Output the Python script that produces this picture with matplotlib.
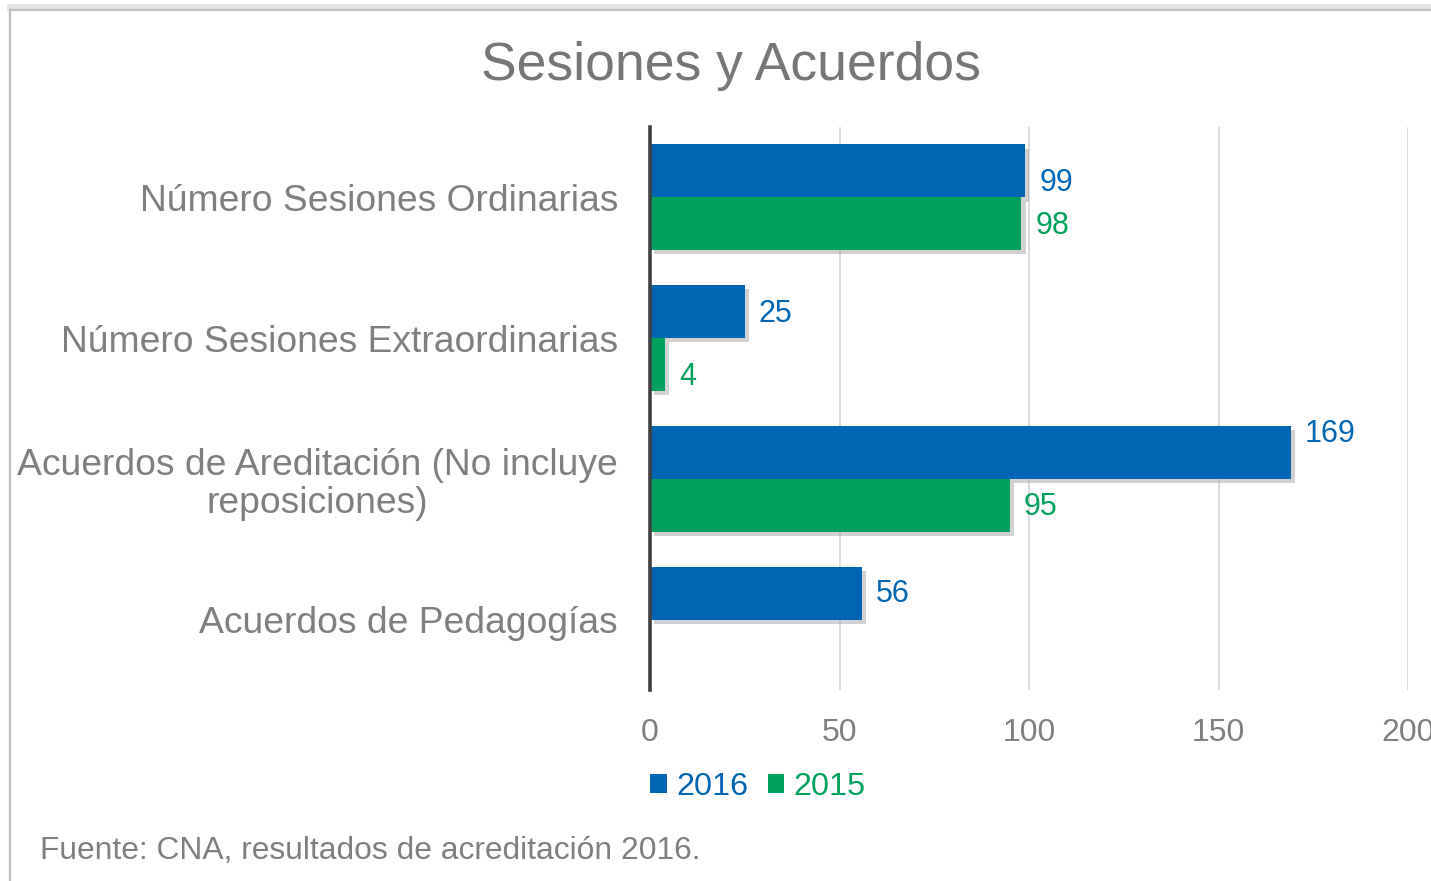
import matplotlib
matplotlib.use("Agg")
import matplotlib.pyplot as plt
import matplotlib.patheffects as pe
from matplotlib.lines import Line2D
import numpy as np

plt.rcParams['font.family'] = ['Liberation Sans', 'DejaVu Sans']

categories = ["Número Sesiones Ordinarias",
              "Número Sesiones Extraordinarias",
              "Acuerdos de Areditación (No incluye\nreposiciones)",
              "Acuerdos de Pedagogías"]
values_2016 = [99, 25, 169, 56]
values_2015 = [98, 4, 95, None]
series_names = ["2016", "2015"]
xticks = [0, 50, 100, 150, 200]
title = "Sesiones y Acuerdos"
source = "Fuente: CNA, resultados de acreditación 2016."

# style
C_BLUE = "#0066B3"
C_GREEN = "#00A15C"
C_GRAY = "#7F7F7F"
W, H = 1431, 881
fig = plt.figure(figsize=(W / 100, H / 100), dpi=100)
ax = fig.add_axes([650 / W, 1 - 690 / H, (1408 - 650) / W, (690 - 127) / H])

n = len(categories)
y = np.arange(n)
bh = 0.376
shadow = [pe.SimplePatchShadow(offset=(3, -3), shadow_rgbFace="#909090", alpha=0.4), pe.Normal()]

b16 = ax.barh(y - bh / 2, values_2016, height=bh, color=C_BLUE, label=series_names[0], zorder=3)
v15 = [v if v is not None else 0 for v in values_2015]
b15 = ax.barh(y + bh / 2, v15, height=bh, color=C_GREEN, label=series_names[1], zorder=3)
for i, r in enumerate(b15):
    if values_2015[i] is None:
        r.set_visible(False)
for r in list(b16) + list(b15):
    r.set_path_effects(shadow)

# label vertical offsets (pixels) to mimic reference placement
off16 = [-12, -2, 18, -1]
off15 = [-2, -12, -2, 0]
for i, v in enumerate(values_2016):
    ax.annotate(str(v), (v, y[i] - bh / 2), xytext=(14, off16[i]), textcoords="offset pixels",
                ha="left", va="center", color=C_BLUE, fontsize=22)
for i, v in enumerate(values_2015):
    if v is None:
        continue
    ax.annotate(str(v), (v, y[i] + bh / 2), xytext=(14, off15[i]), textcoords="offset pixels",
                ha="left", va="center", color=C_GREEN, fontsize=22)

ax.set_xlim(0, 200)
ax.set_ylim(n - 0.5, -0.5)
ax.set_xticks(xticks)
ax.set_xticklabels([str(t) for t in xticks])
ax.set_yticks(y)
ax.set_yticklabels(categories)
for lbl in ax.get_yticklabels():
    lbl.set_multialignment("center")
    lbl.set_linespacing(1.1)
ax.tick_params(axis="y", length=0, pad=23, labelsize=26.8, labelcolor=C_GRAY)
ax.tick_params(axis="x", length=0, pad=20, labelsize=23, labelcolor=C_GRAY)
ax.grid(axis="x", color="#D9D9D9", linewidth=1.3, zorder=0)
ax.set_axisbelow(True)
for s in ["top", "right", "bottom"]:
    ax.spines[s].set_visible(False)
ax.spines["left"].set_color("#404040")
ax.spines["left"].set_linewidth(2.6)
ax.spines["left"].set_zorder(5)

fig.text(731 / W, 1 - 66 / H, title, ha="center", va="center", fontsize=38.5, color="#767676")
fig.text(40 / W, 1 - 851 / H, source, ha="left", va="center", fontsize=22.9, color=C_GRAY)

leg = fig.legend(handles=[b16, b15], labels=series_names, loc="center",
                 bbox_to_anchor=(758 / W, 1 - 787 / H), ncol=2, frameon=False,
                 fontsize=23.3, handlelength=0.5, handleheight=0.5, handletextpad=0.3,
                 columnspacing=0.6, labelcolor=[C_BLUE, C_GREEN])
for h in leg.legend_handles:
    h.set_path_effects([])

# outer border (top and left visible)
fig.add_artist(Line2D([10 / W, 1], [1 - 10 / H, 1 - 10 / H], transform=fig.transFigure,
                      color="#BFBFBF", linewidth=1.6,
                      path_effects=[pe.SimpleLineShadow(offset=(0, 2), shadow_color="#C8C8C8", alpha=0.5, linewidth=5), pe.Normal()]))
fig.add_artist(Line2D([10 / W, 10 / W], [0, 1 - 10 / H], transform=fig.transFigure,
                      color="#BFBFBF", linewidth=1.6))

fig.savefig("out.png", dpi=100)
